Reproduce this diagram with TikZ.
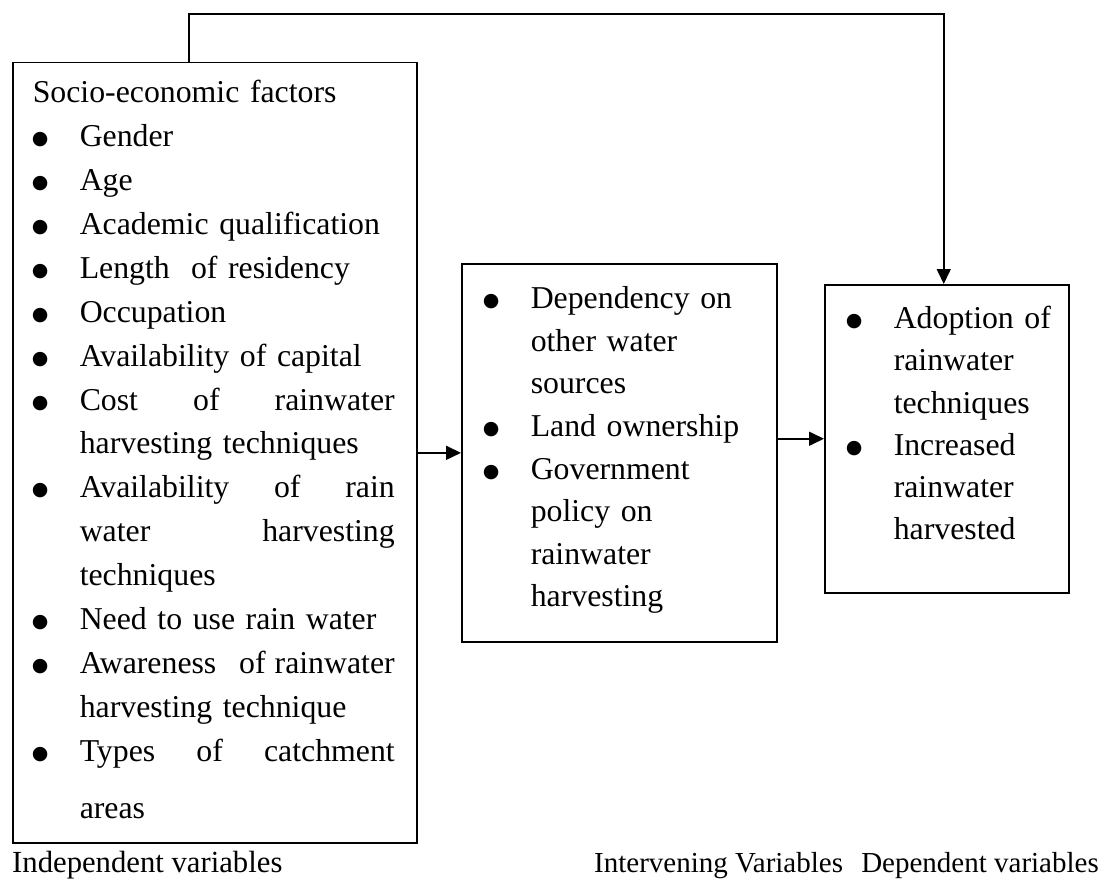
\documentclass[tikz,border=0pt]{standalone}
\usepackage{fontspec}
\setmainfont{Liberation Serif}
\newfontfamily\dotfont{DejaVu Sans}
\usetikzlibrary{arrows.meta,positioning}
% bullet item with hanging text
\newcommand{\bul}[1][47pt]{\par\noindent\hangindent=#1\hangafter=0%
  \llap{\makebox[#1][l]{\hspace*{-1pt}\raisebox{2pt}{\dotfont\fontsize{19pt}{19pt}\selectfont ●}}}}
% stretchable gap for spread lines
\newcommand{\jgap}[1][1]{\nobreak\hskip 0.25em plus #1fill\relax}
\tikzset{
  varbox/.style = {draw, line width=1.5pt, inner sep=0pt, anchor=north west,
    font=\fontsize{31.8pt}{43.9pt}\selectfont},
  link/.style = {line width=1.6pt, -{Triangle[length=15pt,width=14pt]}},
  caption/.style = {inner sep=0pt, anchor=base west, font=\fontsize{30.7pt}{38pt}\selectfont}
}
\begin{document}
\begin{tikzpicture}[x=1pt, y=-1pt]
  \useasboundingbox (0,0) rectangle (1104,880);
  % independent variables
  \node[varbox, text width=404pt] (indep) at (12,62) {\parskip=0pt\tolerance=10000\hbadness=10000
    \leftskip=20pt\rightskip=22pt
    \noindent\rule{0pt}{40pt}Socio-economic factors
    \bul Gender
    \bul Age
    \bul Academic qualification
    \bul Length\ \ of residency
    \bul Occupation
    \bul Availability of capital
    \bul Cost\jgap of\jgap rainwater\linebreak harvesting techniques
    \bul Availability\jgap of\jgap rain\linebreak water\jgap harvesting\linebreak techniques
    \bul Need to use rain water
    \bul Awareness\jgap[4] of\jgap rainwater\linebreak harvesting technique
    \bul Types\jgap of\jgap catchment\linebreak \rule{0pt}{49pt}areas\rule[-25pt]{0pt}{25pt}\par};
  % intervening variables
  \node[varbox, text width=315pt, font=\fontsize{31.8pt}{42.6pt}\selectfont] (interv) at (461,263) {\parskip=0pt
    \leftskip=22pt\rightskip=0pt plus 1fil
    \bul\rule{0pt}{44pt}Dependency on\newline other water\newline sources
    \bul Land ownership
    \bul Government\newline policy on\newline rainwater\newline harvesting\rule[-35pt]{0pt}{35pt}\par};
  % dependent variables
  \node[varbox, text width=244pt, font=\fontsize{31.8pt}{42.2pt}\selectfont] (dep) at (824,284) {\parskip=0pt
    \leftskip=22pt\rightskip=0pt plus 1fil
    \bul\rule{0pt}{43pt}Adoption of\newline rainwater\newline techniques
    \bul Increased\newline rainwater\newline harvested\rule[-53pt]{0pt}{53pt}\par};
  % captions
  \node[caption] (capi) at (12,872) {Independent variables};
  \node[caption, font=\fontsize{29pt}{36pt}\selectfont] (capv) at (594,872) {Intervening Variables};
  \node[caption, font=\fontsize{29pt}{36pt}\selectfont, anchor=base east] (capd) at (1099,872) {Dependent variables};
  % connectors
  \draw[link] (indep.east |- interv.west) -- (interv.west);
  \draw[link] (interv.east |- dep.west) -- (dep.west);
  \draw[link] ([xshift=-26pt]indep.north) -- ++(0,-48) -| ([xshift=-3pt]dep.north);
\end{tikzpicture}
\end{document}
